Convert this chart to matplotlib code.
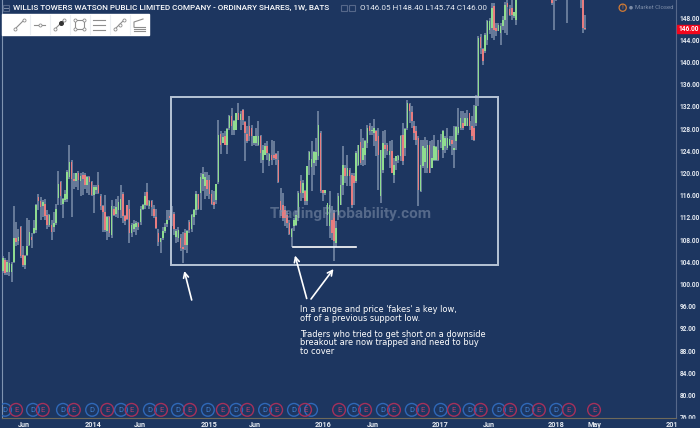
import matplotlib
matplotlib.use("Agg")
import matplotlib.pyplot as plt
from matplotlib.patches import Rectangle, Circle

BG = "#1d3660"
WICK = "#7c8eaa"
GREEN = "#8fdc8f"
RED = "#e87c7f"
FONT = "Roboto"

# weekly candles
opens = [
    102.9, 102.3, 104.3, 102.2, 102.2, 102.2, 104.0, 108.2, 107.8, 110.2,
    105.2, 103.5, 105.2, 107.1, 108.5, 109.2, 109.8, 115.7, 115.0, 114.0,
    114.5, 112.5, 110.7, 110.7, 110.3, 111.0, 115.5, 118.4, 114.5, 115.2,
    115.4, 119.3, 122.0, 119.0, 118.5, 120.0, 118.6, 119.6, 119.6, 117.8,
    119.2, 118.4, 116.0, 117.0, 117.8, 115.9, 114.0, 113.0, 109.6, 112.0,
    108.9, 113.6, 112.6, 113.4, 113.4, 116.3, 112.2, 114.2, 113.6, 109.1,
    110.0, 110.2, 111.0, 111.2, 113.6, 114.2, 116.5, 114.0, 115.0, 113.6,
    112.0, 109.1, 107.5, 108.3, 109.5, 110.9, 112.3, 113.0, 112.7, 108.5,
    108.2, 108.2, 106.7, 109.1, 107.1, 111.2, 110.0, 112.0, 113.3, 116.2,
    116.4, 119.0, 117.6, 118.8, 118.8, 116.3, 114.8, 115.2, 118.3, 127.0,
    125.4, 126.7, 125.1, 128.1, 130.2, 127.8, 127.8, 130.8, 129.6, 131.4,
    129.1, 127.1, 128.4, 128.1, 125.4, 125.4, 125.1, 126.6, 122.4, 123.3,
    124.8, 122.1, 123.3, 123.3, 123.4, 122.4, 114.9, 114.3, 113.4, 112.5,
    111.0, 108.5, 110.4, 110.7, 111.9, 118.6, 116.4, 116.7, 114.9, 122.4,
    121.0, 121.8, 122.4, 123.0, 127.2, 117.0, 116.4, 112.5, 110.4, 111.6,
    112.8, 107.3, 112.5, 114.3, 117.9, 120.9, 119.4, 120.6, 119.7, 119.4,
    118.5, 121.5, 125.5, 122.4, 123.3, 125.4, 128.5, 127.5, 127.2, 127.5, 126.6,
    115.8, 120.6, 125.1, 125.1, 123.3, 123.9, 119.7, 122.1, 122.3, 123.0,
    126.9, 124.5, 128.1, 132.4, 131.0, 128.4, 127.5, 126.3, 116.7, 121.2,
    122.0, 120.9, 125.1, 120.9, 122.4, 122.4, 124.2, 125.5, 124.2, 124.8, 124.5,
    125.1, 126.0, 124.2, 125.7, 127.2, 128.1, 129.0, 128.4, 128.5, 130.9,
    128.4, 128.1, 129.0, 133.5, 144.5, 142.3, 141.9, 144.0, 145.8, 146.1,
    150.1, 146.1, 145.5, 145.2, 146.4, 147.6, 150.6, 149.5, 149.7, 148.2,
    147.6, 153.0, 153.5, 153.0, 154.0, 153.0, 153.0, 146.05,
]
highs = [
    103.2, 105.0, 104.6, 104.3, 105.8, 104.0, 114.0, 111.2, 110.0, 110.4,
    106.8, 105.2, 111.9, 111.5, 109.1, 111.5, 114.4, 116.2, 115.7, 115.1,
    115.4, 113.4, 112.7, 111.5, 113.0, 114.4, 120.4, 118.5, 115.5, 117.0,
    120.5, 125.0, 122.4, 120.0, 120.0, 120.3, 120.0, 120.2, 120.0, 119.4,
    119.4, 118.5, 117.8, 117.8, 120.2, 116.3, 114.2, 116.0, 112.2, 112.2,
    115.2, 114.0, 115.4, 115.8, 117.8, 116.6, 112.4, 114.3, 115.2, 111.0,
    111.5, 111.4, 111.2, 114.0, 114.4, 116.6, 118.2, 115.2, 115.2, 114.2,
    113.6, 110.0, 108.2, 110.3, 111.0, 113.4, 113.4, 114.0, 113.0, 110.0,
    110.3, 109.0, 109.4, 110.0, 109.8, 111.5, 112.7, 113.6, 116.7, 116.3,
    120.0, 121.1, 120.2, 120.2, 119.6, 117.0, 116.7, 118.1, 129.5, 127.5,
    127.2, 127.5, 128.1, 130.4, 131.7, 129.6, 130.8, 132.6, 131.1, 131.6,
    129.3, 128.4, 130.2, 128.7, 126.6, 128.1, 129.3, 126.9, 125.1, 125.4,
    125.7, 123.6, 126.0, 125.7, 123.6, 123.9, 117.3, 116.4, 114.0, 113.1,
    111.5, 110.1, 111.9, 113.1, 116.7, 119.7, 118.8, 117.0, 121.2, 123.9,
    125.7, 123.9, 126.3, 131.1, 127.5, 117.0, 116.7, 114.3, 116.7, 114.0,
    113.4, 111.3, 116.4, 119.7, 124.8, 121.5, 123.3, 120.9, 120.0, 120.0,
    124.0, 125.1, 127.9, 126.3, 126.0, 128.7, 129.0, 128.4, 129.7, 127.8, 128.1,
    124.2, 127.5, 127.8, 125.4, 125.7, 126.0, 122.7, 123.0, 123.3, 126.9,
    129.0, 128.1, 133.2, 132.6, 132.0, 129.3, 128.4, 126.6, 126.0, 126.0,
    126.5, 126.0, 125.7, 126.0, 126.9, 124.8, 126.0, 127.0, 127.8, 126.6, 128.1,
    126.6, 126.6, 128.4, 128.4, 131.7, 131.1, 131.1, 130.8, 131.4, 129.3,
    130.2, 132.3, 134.0, 144.6, 145.0, 142.5, 145.2, 147.6, 147.9, 150.6,
    150.6, 147.0, 147.0, 147.0, 148.2, 150.9, 152.0, 150.3, 152.0, 149.0,
    153.0, 153.5, 154.0, 153.5, 155.0, 154.0, 154.0, 148.40,
]
lows = [
    100.3, 102.0, 101.7, 101.7, 101.4, 100.4, 103.7, 106.8, 107.0, 104.6,
    103.1, 102.7, 105.0, 106.8, 106.5, 109.0, 109.1, 113.4, 111.5, 112.1,
    111.5, 110.0, 110.3, 108.0, 109.4, 110.6, 114.2, 114.2, 111.9, 114.8,
    114.8, 119.0, 112.1, 117.2, 117.5, 117.0, 115.8, 116.0, 117.2, 116.4,
    116.0, 115.8, 112.8, 116.3, 116.3, 113.4, 109.4, 109.4, 108.0, 108.5,
    108.2, 112.2, 112.0, 111.9, 111.9, 111.0, 110.6, 111.5, 107.4, 108.5,
    109.4, 108.9, 109.8, 110.6, 113.4, 113.6, 114.0, 113.6, 112.2, 111.9,
    110.0, 106.8, 105.5, 108.0, 109.1, 110.3, 111.5, 110.4, 108.9, 107.3,
    107.6, 106.0, 103.8, 106.1, 105.6, 109.1, 109.4, 110.6, 112.5, 113.4,
    113.4, 116.7, 115.4, 115.8, 115.4, 114.2, 113.6, 114.5, 118.1, 123.5,
    125.4, 125.0, 123.5, 127.8, 126.9, 126.9, 127.8, 129.6, 127.8, 128.7,
    122.1, 125.4, 125.7, 124.8, 125.1, 124.8, 124.8, 121.8, 120.0, 123.3,
    122.4, 121.2, 121.5, 122.4, 121.5, 118.2, 112.2, 111.3, 110.4, 110.1,
    108.9, 106.6, 109.5, 110.4, 111.3, 114.9, 115.5, 114.3, 114.3, 119.7,
    116.7, 119.7, 121.2, 122.4, 116.4, 114.9, 116.0, 110.4, 108.3, 108.0,
    104.2, 106.6, 111.6, 114.3, 116.1, 118.2, 117.6, 117.6, 113.7, 114.3,
    118.2, 121.2, 121.5, 121.2, 121.5, 124.5, 126.9, 126.9, 124.8, 123.0, 117.0,
    114.6, 120.0, 122.7, 123.3, 120.9, 120.0, 118.2, 120.6, 121.8, 122.1,
    121.5, 123.0, 127.8, 129.0, 128.1, 126.0, 125.1, 114.0, 116.5, 120.9,
    120.0, 120.0, 120.0, 120.9, 122.1, 122.1, 122.1, 124.5, 122.7, 123.6, 124.2,
    124.8, 123.3, 120.9, 124.2, 126.9, 127.8, 127.8, 128.4, 128.4, 127.8,
    126.0, 125.7, 128.4, 132.0, 141.5, 139.5, 141.6, 143.0, 145.0, 144.3,
    144.0, 144.6, 145.5, 143.1, 145.8, 145.2, 144.9, 148.2, 147.6, 147.9,
    146.7, 150.3, 145.8, 151.0, 147.1, 149.7, 145.3, 145.74,
]
closes = [
    102.0, 104.7, 102.0, 103.9, 103.7, 103.6, 108.2, 107.6, 108.5, 105.0,
    103.4, 105.1, 106.8, 109.4, 108.0, 110.0, 114.2, 115.0, 113.8, 114.8,
    112.2, 110.7, 112.4, 109.4, 111.0, 113.6, 118.0, 115.8, 115.4, 116.3,
    120.2, 122.0, 119.0, 118.5, 120.0, 118.8, 119.5, 119.0, 117.8, 119.2,
    118.4, 116.0, 117.5, 117.5, 116.4, 114.1, 113.0, 109.8, 112.0, 109.1,
    114.1, 112.5, 113.8, 114.8, 115.4, 112.2, 111.4, 111.8, 109.1, 110.6,
    110.9, 111.0, 110.3, 113.6, 114.2, 115.9, 114.3, 115.0, 113.8, 112.2,
    110.1, 107.5, 108.2, 109.5, 110.3, 111.5, 111.9, 112.3, 110.0, 109.6,
    109.7, 106.4, 106.3, 107.1, 109.6, 109.7, 112.4, 113.3, 116.3, 113.6,
    119.3, 119.9, 119.3, 117.2, 116.3, 114.5, 114.2, 118.1, 126.8, 125.1,
    126.5, 125.0, 128.0, 130.2, 128.4, 129.3, 130.8, 129.6, 130.6, 129.6,
    127.2, 125.7, 126.6, 126.6, 126.6, 126.6, 126.6, 123.6, 124.2, 124.8,
    123.6, 123.4, 122.4, 122.7, 122.6, 118.4, 113.4, 111.9, 111.9, 111.0,
    109.0, 109.9, 111.6, 112.5, 116.4, 116.4, 118.2, 114.9, 121.2, 123.7,
    122.5, 123.7, 123.7, 128.7, 116.7, 116.4, 117.0, 114.6, 114.3, 109.2,
    107.8, 110.1, 115.8, 117.9, 121.5, 119.4, 120.9, 119.4, 114.3, 118.2,
    123.6, 125.1, 121.8, 124.5, 125.7, 128.1, 127.5, 127.8, 128.1, 125.7, 123.3,
    124.2, 125.4, 124.3, 123.9, 123.9, 120.0, 121.5, 123.0, 123.0, 126.6,
    122.1, 127.9, 132.7, 131.1, 129.3, 127.2, 126.0, 117.0, 121.5, 124.8,
    124.5, 125.1, 120.0, 122.7, 124.8, 124.6, 122.4, 126.0, 127.5, 126.3, 126.3,
    126.1, 125.2, 124.5, 128.2, 128.2, 129.9, 128.1, 129.9, 129.9, 128.5,
    126.6, 126.0, 132.0, 144.3, 142.5, 140.1, 144.9, 147.3, 147.3, 149.7,
    145.8, 145.5, 146.7, 146.4, 147.6, 150.3, 149.9, 148.5, 148.5, 149.0,
    151.5, 150.6, 152.5, 152.0, 152.5, 152.0, 146.1, 146.00,
]
# the last candles are separated by weeks that sit above the top of the chart
late_weeks = [248, 249, 250, 255, 261, 262, 263]

dividend_weeks = [2, 14.6, 28.1, 41.2, 54.2, 67.2, 79.8, 93.3, 106, 119, 132, 139.7,
                  159, 172, 185, 198, 211, 224.2, 237, 250]
earnings_weeks = [7, 19, 33, 48, 59, 72.2, 85.2, 100, 111, 124, 137, 152.3, 164, 177,
                  190, 204, 216, 229.2, 242.2, 255.7, 267]

x_tick_weeks = [10.6, 41.6, 62.8, 93.8, 114.5, 145, 167.6, 197.7, 219.7, 249.9, 267.4, 302]
x_tick_labels = ["Jun", "2014", "Jun", "2015", "Jun", "2016", "Jun", "2017", "Jun", "2018", "May", "201"]
y_ticks = list(range(76, 149, 4))

title = "WILLIS TOWERS WATSON PUBLIC LIMITED COMPANY - ORDINARY SHARES, 1W, BATS"
ohlc_text = "O146.05 H148.40 L145.74 C146.00"
note_lines = [
    "In a range and price 'fakes' a key low,",
    "off of a previous support low.",
    "",
    "Traders who tried to get short on a downside",
    "breakout are now trapped and need to buy",
    "to cover",
]

weeks = list(range(len(opens) - len(late_weeks))) + late_weeks

fig = plt.figure(figsize=(7.0, 4.28), dpi=100, facecolor=BG)
ax = fig.add_axes([1.5 / 700, 10 / 428, 674.5 / 700, 418 / 428], facecolor=BG)
# px -> data: x = 0.5 + 2.223 * week, y = 284 - 5.55 * (price - 100)
ax.set_xlim((1.5 - 0.5) / 2.223, (676 - 0.5) / 2.223)
ax.set_ylim(100 - (418 - 284) / 5.55, 100 + 284 / 5.55)

ax.vlines(weeks, lows, highs, color=WICK, lw=1.1, zorder=2)
colors = [GREEN if c >= o else RED for o, c in zip(opens, closes)]
ax.bar(weeks, [abs(c - o) for o, c in zip(opens, closes)],
       bottom=[min(o, c) for o, c in zip(opens, closes)],
       width=0.7, color=colors, linewidth=0, zorder=3)

dot_trans = ax.get_xaxis_transform()
ax.scatter(dividend_weeks, [0.0195] * len(dividend_weeks), s=84, facecolors="none",
           edgecolors="#2f68b8", linewidths=1.0, transform=dot_trans, zorder=4)
ax.scatter(earnings_weeks, [0.0195] * len(earnings_weeks), s=84, facecolors="none",
           edgecolors="#a5305a", linewidths=1.0, transform=dot_trans, zorder=4)
for w in dividend_weeks:
    if w != 139.7:
        ax.text(w, 0.0195, "D", color="#3f7fd0", fontsize=5.5, ha="center", va="center",
                family=FONT, transform=dot_trans, zorder=5)
for w in earnings_weeks:
    ax.text(w, 0.0195, "E", color="#b8406a", fontsize=5.5, ha="center", va="center",
            family=FONT, transform=dot_trans, zorder=5)

ax.yaxis.tick_right()
ax.set_yticks(y_ticks)
ax.set_yticklabels(["%.2f" % v for v in y_ticks], fontsize=4.7, fontweight="bold",
                   color="#e6ebf2", family=FONT)
ax.set_xticks(x_tick_weeks)
ax.set_xticklabels(x_tick_labels, fontsize=5.2, fontweight="bold", color="#e6ebf2", family=FONT)
ax.tick_params(axis="y", length=0, pad=2.5)
ax.tick_params(axis="x", length=0, pad=2)
ax.spines["top"].set_visible(False)
ax.spines["left"].set_color("#7f93b0")
ax.spines["left"].set_linewidth(0.8)
ax.spines["right"].set_color("#56688a")
ax.spines["bottom"].set_color("#6f6a5a")

# overlay in pixel coordinates for the drawing tools and the platform chrome
px = fig.add_axes([0, 0, 1, 1], facecolor="none")
px.set_xlim(0, 700)
px.set_ylim(428, 0)
px.axis("off")

px.add_patch(Rectangle((677, 418.5), 23, 10, color=BG, zorder=1))
px.add_patch(Rectangle((171, 97), 327, 168, fill=False, ec="#b7c4d6", lw=1.4, zorder=5))
px.plot([293, 356], [247, 247], color="white", lw=1.2, zorder=5)
for tail, head in [((191.7, 300), (184.3, 271)), ((306.7, 298.5), (295, 255.5)), ((311, 299), (333.5, 269))]:
    px.annotate("", xy=head, xytext=tail, zorder=6,
                arrowprops=dict(arrowstyle="->", color="white", lw=1.2, mutation_scale=9,
                                shrinkA=0, shrinkB=0))
for i, line in enumerate(note_lines):
    px.text(300, 310 + i * 8.2, line, color="white", fontsize=5.95, va="center", family="DejaVu Sans")
px.text(350.5, 214, "TradingProbability.com", color="#8d9cb4", alpha=0.5, fontsize=11,
        fontweight="bold", ha="center", va="center", family=FONT, zorder=1)

px.text(13, 8, title, color="white", fontsize=5.85, fontweight="medium", va="center", family=FONT)
px.text(360, 8, ohlc_text, color="#e6ebf2", fontsize=5.9, va="center", family=FONT)
px.text(635, 7.5, "Market Closed", color="#7d8da8", fontsize=4.3, va="center", family=FONT)
px.add_patch(Circle((622.7, 7.7), 3.6, fill=False, ec="#d07a35", lw=0.9))
px.text(622.7, 7.7, "!", color="#d07a35", fontsize=5, ha="center", va="center", family=FONT)
px.add_patch(Circle((631, 7.7), 1.1, color="#7d8da8"))
for x0 in [3, 341, 349]:
    px.add_patch(Rectangle((x0, 5), 6, 6, fill=False, ec="#56688a", lw=0.8))
px.plot([4, 8], [8, 8], color="#7d8da8", lw=0.7)

# toolbar
px.add_patch(Rectangle((2, 14), 147, 21, color="white", zorder=2))
for x0 in [29.5, 49.5, 69.5, 89.5, 109.5, 129.5]:
    px.plot([x0, x0], [15, 34], color="#eceff3", lw=0.8, zorder=3)
icon = dict(color="#8d8d8d", lw=0.8, zorder=4)
end = dict(marker="o", ms=2.2, mfc="white", mec="#8d8d8d", mew=0.6, ls="none", zorder=5)
px.plot([15, 24], [29, 20], **icon)
px.plot([15, 24], [29, 20], **end)
px.plot([34, 45], [24.5, 24.5], **icon)
px.plot([39.5], [24.5], **end)
px.plot([55, 64], [29, 20], **icon)
px.plot([61], [23], color="#333333", marker="o", ms=2.6, zorder=5)
px.plot([55, 64], [29, 20], **end)
px.add_patch(Rectangle((75, 20), 9, 9, fill=False, ec="#8d8d8d", lw=0.8, zorder=4))
px.plot([75, 84, 75, 84], [20, 20, 29, 29], **end)
for y0 in [19.5, 24.5, 29.5]:
    px.plot([93, 105], [y0, y0], **icon)
px.plot([115, 124], [29, 20], **icon)
px.plot([115, 119.5, 124], [29, 24.5, 20], **end)
px.plot([134, 134, 143], [27, 22, 19], **icon)
for y0 in [26.5, 29, 31]:
    px.plot([134, 145], [y0, y0], **icon)

# current price tag
px.add_patch(Rectangle((677, 25.2), 23, 7.4, color="#f2061c", zorder=3))
px.text(688.5, 29, "146.00", color="white", fontsize=4.7, fontweight="bold", ha="center",
        va="center", family=FONT, zorder=4)

fig.savefig("out.png", dpi=100, facecolor=BG)
